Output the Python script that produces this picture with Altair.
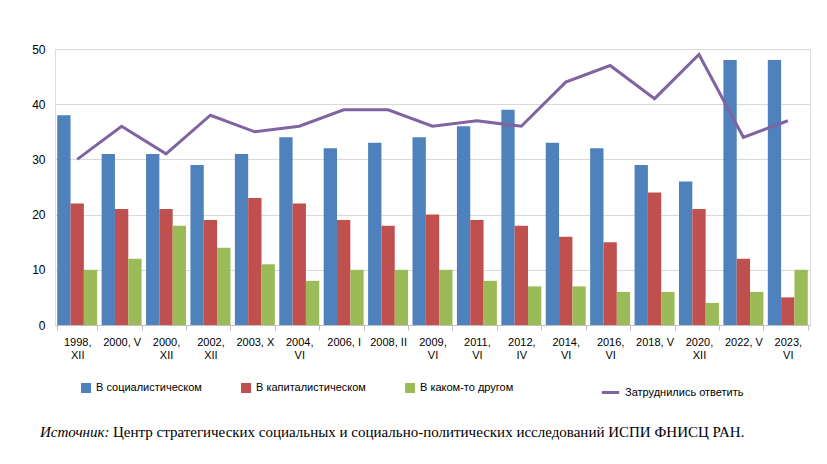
import altair as alt
import pandas as pd

cats = ["1998,\nXII","2000, V","2000,\nXII","2002,\nXII","2003, X","2004,\nVI","2006, I","2008, II",
        "2009,\nVI","2011,\nVI","2012,\nIV","2014,\nVI","2016,\nVI","2018, V","2020,\nXII","2022, V","2023,\nVI"]
soc = [38,31,31,29,31,34,32,33,34,36,39,33,32,29,26,48,48]
cap = [22,21,21,19,23,22,19,18,20,19,18,16,15,24,21,12,5]
oth = [10,12,18,14,11,8,10,10,10,8,7,7,6,6,4,6,10]
hard = [30,36,31,38,35,36,39,39,36,37,36,44,47,41,49,34,37]
series = ["В социалистическом","В капиталистическом","В каком-то другом"]
colors = ["#4F81BD","#C0504D","#9BBB59"]
line_name = "Затруднились ответить"

rows = []
for i, c in enumerate(cats):
    for s, v in zip(series, (soc[i], cap[i], oth[i])):
        rows.append({"cat": c, "series": s, "value": v})
bars_df = pd.DataFrame(rows)
line_df = pd.DataFrame({"cat": cats, "value": hard, "name": line_name})

xenc = alt.X("cat:N", sort=cats, title=None,
             scale=alt.Scale(paddingInner=0.1, paddingOuter=0.05),
             axis=alt.Axis(labelAngle=0, labelExpr="split(datum.label, '\\n')", labelFont="Liberation Sans",
                           labelFontSize=11, labelColor="#000", domainColor="#bfbfbf", tickColor="#bfbfbf",
                           tickBand="extent", labelPadding=6))
yenc = alt.Y("value:Q", title=None, scale=alt.Scale(domain=[0, 50]),
             axis=alt.Axis(values=[0,10,20,30,40,50], domain=False, ticks=False, gridColor="#d9d9d9",
                           labelFont="Liberation Sans", labelFontSize=12, labelColor="#000", labelPadding=10))

bars = alt.Chart(bars_df).mark_bar().encode(
    x=xenc, y=yenc,
    xOffset=alt.XOffset("series:N", sort=series, scale=alt.Scale(paddingInner=0, paddingOuter=0)),
    color=alt.Color("series:N", sort=series, scale=alt.Scale(domain=series, range=colors),
                    legend=alt.Legend(title=None, orient="none", legendX=25, legendY=333, direction="horizontal",
                                      symbolType="square", symbolSize=100, columnPadding=38,
                                      labelFont="Liberation Sans", labelFontSize=11, labelColor="#000")),
)
line = alt.Chart(line_df).mark_line(strokeWidth=3).encode(
    x=alt.X("cat:N", sort=cats), y="value:Q",
    stroke=alt.Stroke("name:N", scale=alt.Scale(domain=[line_name], range=["#8064A2"]),
                      legend=alt.Legend(title=None, orient="none", legendX=545, legendY=333,
                                        symbolType="stroke", symbolStrokeWidth=3, symbolSize=300,
                                        labelFont="Liberation Sans", labelFontSize=11, labelColor="#000")),
)
src1 = alt.Chart(pd.DataFrame({"t": ["Источник:"]})).mark_text(
    align="left", font="Liberation Serif", fontSize=15, fontStyle="italic", color="#000"
).encode(x=alt.value(-15), y=alt.value(383), text="t:N")
src2 = alt.Chart(pd.DataFrame({"t": ["Центр стратегических социальных и социально-политических исследований ИСПИ ФНИСЦ РАН."]})).mark_text(
    align="left", font="Liberation Serif", fontSize=15, color="#000"
).encode(x=alt.value(58), y=alt.value(383), text="t:N")

chart = alt.layer(bars, line, src1, src2).resolve_scale(color="independent").properties(
    width=755, height=276, autosize=alt.AutoSizeParams(type="none"),
    padding={"left": 47, "top": 41, "right": 9, "bottom": 131}
).configure_view(stroke=None).configure(background="white")

chart.save("out.html", embed_options={"renderer": "svg", "actions": False})
